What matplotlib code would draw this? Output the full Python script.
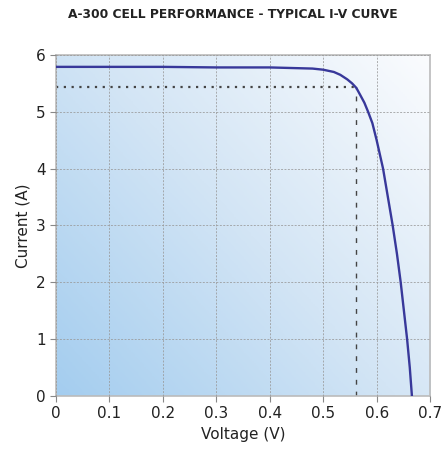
import numpy as np
import matplotlib.pyplot as plt
from matplotlib.colors import LinearSegmentedColormap

# I-V curve
voltage = [0.0, 0.1, 0.2, 0.3, 0.4, 0.44, 0.48, 0.5, 0.52, 0.532, 0.545, 0.554, 0.562,
           0.569, 0.577, 0.584, 0.592, 0.600, 0.606, 0.612, 0.621, 0.630, 0.638,
           0.645, 0.651, 0.657, 0.662, 0.666]
current = [5.79, 5.79, 5.79, 5.78, 5.78, 5.77, 5.76, 5.74, 5.70, 5.65, 5.57, 5.50, 5.42,
           5.30, 5.16, 5.0, 4.8, 4.5, 4.25, 4.0, 3.5, 3.0, 2.5,
           2.0, 1.5, 1.0, 0.5, 0.0]

# max power point
v_mp = 0.562
i_mp = 5.43

x_ticks = [0, 0.1, 0.2, 0.3, 0.4, 0.5, 0.6, 0.7]
x_labels = ['0', '0.1', '0.2', '0.3', '0.4', '0.5', '0.6', '0.7']
y_ticks = [0, 1, 2, 3, 4, 5, 6]

fig = plt.figure(figsize=(4.48, 4.54), dpi=100)
ax = fig.add_axes([0.125, 0.128, 0.835, 0.751])

# blue to white diagonal gradient background
gx, gy = np.meshgrid(np.linspace(0, 1, 200), np.linspace(0, 1, 200))
grad = (gx * 0.55 + gy * 0.45)
cmap = LinearSegmentedColormap.from_list('bg', ['#a4cdef', '#d3e5f5', '#fbfcfe'])
ax.imshow(grad, cmap=cmap, extent=[0, 0.7, 0, 6], origin='lower',
          aspect='auto', zorder=0)

ax.set_xlim(0, 0.7)
ax.set_ylim(0, 6)
ax.grid(True, linestyle=(0, (2, 1.5)), color='#999999', linewidth=0.7, alpha=0.8)
ax.set_axisbelow(False)

ax.plot([0, v_mp], [i_mp, i_mp], linestyle=(0, (1, 2.5)), color='#444444', linewidth=1.6, zorder=2)
ax.plot([v_mp, v_mp], [0, i_mp], linestyle=(0, (3.5, 5)), color='#444444', linewidth=1.0, zorder=2)
ax.plot(voltage, current, color='#38389a', linewidth=1.7, zorder=3)

ax.set_xticks(x_ticks)
ax.set_xticklabels(x_labels)
ax.set_yticks(y_ticks)
ax.tick_params(axis='both', labelsize=11, color='#888888', length=4, width=0.8,
               labelcolor='#222222')
for s in ax.spines.values():
    s.set_color('#bbbbbb')
    s.set_linewidth(1.2)

ax.set_xlabel('Voltage (V)', fontsize=11, color='#222222')
ax.set_ylabel('Current (A)', fontsize=11, color='#222222')
fig.text(0.52, 0.968, 'A-300 CELL PERFORMANCE - TYPICAL I-V CURVE', ha='center', va='center',
         fontsize=8.8, fontweight='bold', color='#222222')

fig.savefig('out.png', dpi=100)
